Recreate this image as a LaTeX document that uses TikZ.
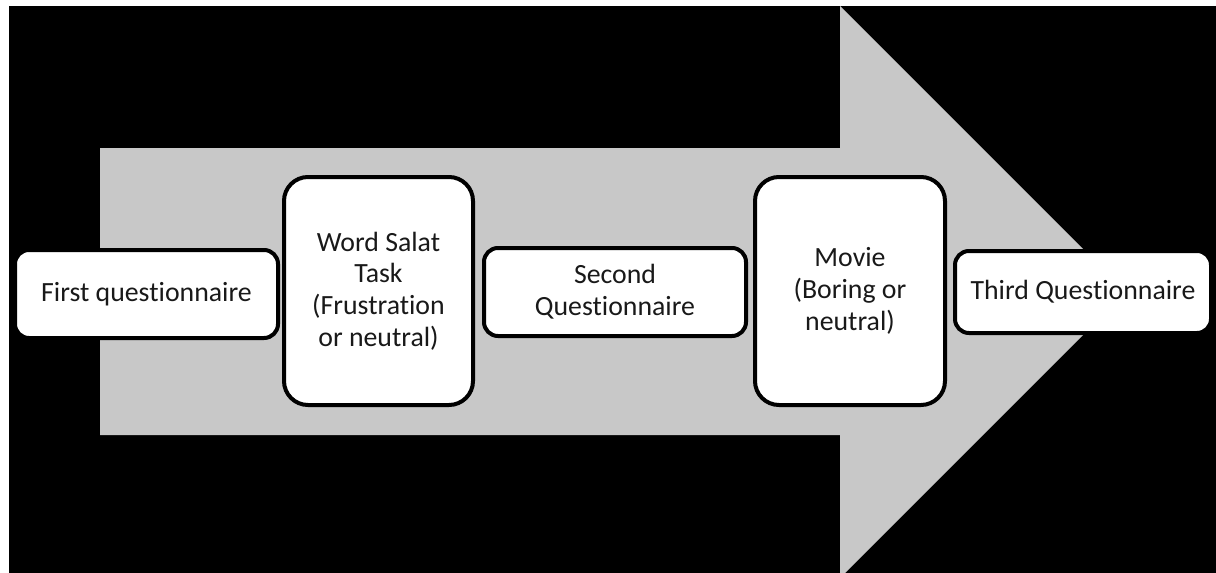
\documentclass[tikz,border=0pt]{standalone}
\usepackage{fontspec}
\setmainfont[Ligatures={NoCommon}]{Carlito}
\begin{document}
\begin{tikzpicture}[x=1pt,y=-1pt,
  stage/.style={draw=black, line width=4pt, fill=white, rounded corners=#1,
    align=center, inner sep=0pt, text=black!90,
    font=\fontsize{27.8}{31.7}\selectfont},
  stage/.default=14pt]
  % page and dark backdrop
  \useasboundingbox (0,0) rectangle (1216,573);
  \fill[white] (0,0) rectangle (1216,573);
  \fill[black] (9,6) rectangle (1216,573);
  % large grey process arrow
  \begin{scope}
    \clip (9,6) rectangle (1216,573);
    \fill[fill={rgb,255:red,200;green,200;blue,200}]
      (100,148) -- (840,148) -- (840,6) -- (1126,292) -- (840,578)
      -- (840,435) -- (100,435) -- cycle;
  \end{scope}
  % process stages
  \node[stage, minimum width=263pt, minimum height=88pt] (q1) at (146.5,294)
    {First questionnaire};
  \node[stage=24pt, minimum width=189pt, minimum height=228pt] (task) at (378.5,291)
    {Word Salat\\Task\\(Frustration\\or neutral)};
  \node[stage, minimum width=262pt, minimum height=88pt] (q2) at (615,292)
    {Second\\Questionnaire};
  \node[stage=24pt, minimum width=190pt, minimum height=228pt] (movie) at (850,291)
    {Movie\\(Boring or\\neutral)};
  \node[stage, minimum width=256pt, minimum height=82pt] (q3) at (1083,292)
    {Third Questionnaire};
\end{tikzpicture}
\end{document}
